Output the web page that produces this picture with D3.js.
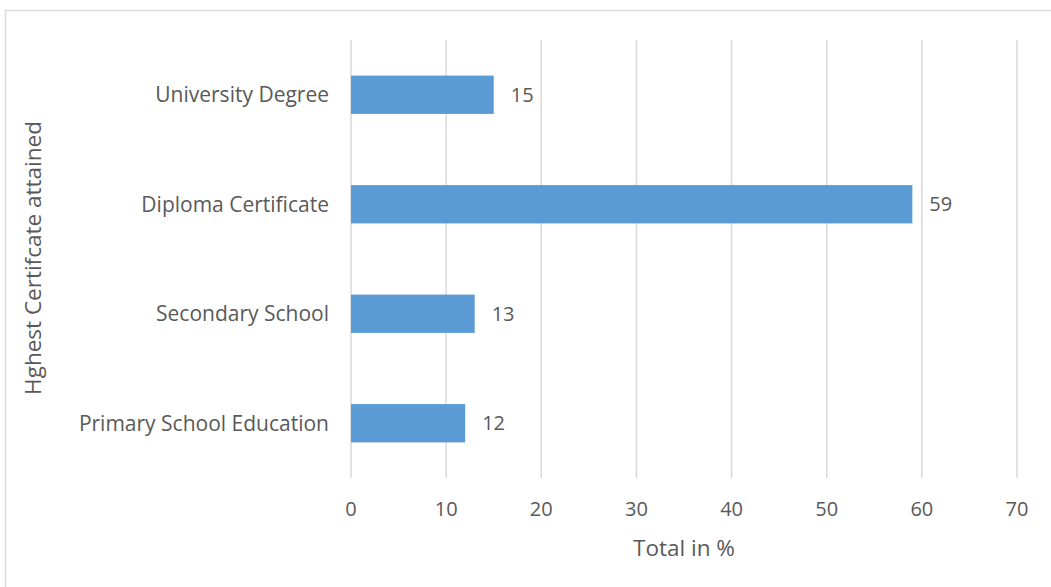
<!DOCTYPE html>
<html>
<head>
<meta charset="utf-8">
<title>Highest certificate attained</title>
<script src="https://cdn.jsdelivr.net/npm/d3@7"></script>
<style>
  body { margin: 0; background: #fff; }
  svg text { font-family: "Open Sans", "Noto Sans", sans-serif; fill: #595959; }
</style>
</head>
<body>
<svg id="chart" width="1051" height="587"></svg>
<script>
// data
var categories = ["University Degree", "Diploma Certificate", "Secondary School", "Primary School Education"];
var values = [15, 59, 13, 12];
var xTicks = [0, 10, 20, 30, 40, 50, 60, 70];
var xTitle = "Total in %";
var yTitle = "Hghest Certifcate attained";

var svg = d3.select("#chart");

// chart frame (only top and left edge show)
svg.append("path")
    .attr("d", "M5.5,587V10.5H1051")
    .attr("fill", "none")
    .attr("stroke", "#d9d9d9")
    .attr("stroke-width", 1.5);

var x = d3.scaleLinear().domain([0, 70]).range([351, 1017]);
var y = d3.scaleBand().domain(categories).range([40, 478]).paddingInner(0.65).paddingOuter(0.325);

// gridlines
svg.append("g").selectAll("line")
    .data(xTicks)
    .enter().append("line")
    .attr("x1", function(d) { return x(d); })
    .attr("x2", function(d) { return x(d); })
    .attr("y1", 40)
    .attr("y2", 478)
    .attr("stroke", "#d9d9d9")
    .attr("stroke-width", 1.5);

// bars
svg.append("g").selectAll("rect")
    .data(values)
    .enter().append("rect")
    .attr("x", x(0))
    .attr("y", function(d, i) { return y(categories[i]); })
    .attr("width", function(d) { return x(d) - x(0); })
    .attr("height", y.bandwidth())
    .attr("fill", "#5b9bd5");

// value labels
svg.append("g").selectAll("text")
    .data(values)
    .enter().append("text")
    .attr("x", function(d) { return x(d) + 17; })
    .attr("y", function(d, i) { return y(categories[i]) + y.bandwidth() / 2; })
    .attr("dy", "0.35em")
    .attr("font-size", 20)
    .text(function(d) { return d; });

// category labels
svg.append("g").selectAll("text")
    .data(categories)
    .enter().append("text")
    .attr("x", 329)
    .attr("y", function(d) { return y(d) + y.bandwidth() / 2; })
    .attr("dy", "0.35em")
    .attr("text-anchor", "end")
    .attr("font-size", 21)
    .text(function(d) { return d; });

// x tick labels
svg.append("g").selectAll("text")
    .data(xTicks)
    .enter().append("text")
    .attr("x", function(d) { return x(d); })
    .attr("y", 509)
    .attr("dy", "0.35em")
    .attr("text-anchor", "middle")
    .attr("font-size", 20)
    .text(function(d) { return d; });

// axis titles
svg.append("text")
    .attr("x", 684)
    .attr("y", 548)
    .attr("dy", "0.35em")
    .attr("text-anchor", "middle")
    .attr("font-size", 22.5)
    .text(xTitle);

svg.append("text")
    .attr("transform", "translate(33,258) rotate(-90)")
    .attr("dy", "0.35em")
    .attr("text-anchor", "middle")
    .attr("font-size", 22.5)
    .text(yTitle);
</script>
</body>
</html>
